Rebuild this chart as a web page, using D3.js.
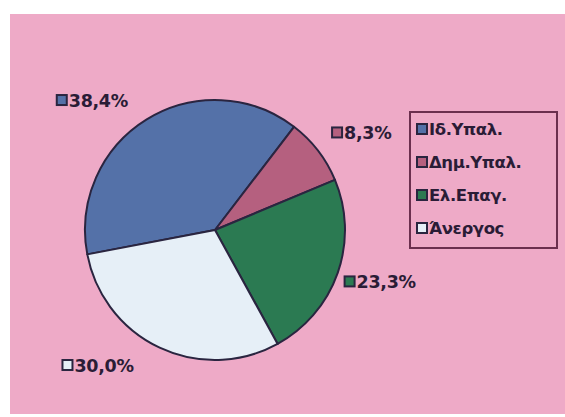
<!DOCTYPE html>
<html>
<head>
<meta charset="utf-8">
<script src="https://cdn.jsdelivr.net/npm/d3@7"></script>
<style>
  html, body { margin: 0; padding: 0; background: #fff; }
  svg { display: block; }
</style>
</head>
<body>
<svg id="chart" width="565" height="417"></svg>
<script>
// Employment status shares (%)
const categories = ["Ιδ.Υπαλ.", "Δημ.Υπαλ.", "Ελ.Επαγ.", "Άνεργος"];
const shares = [38.4, 8.3, 23.3, 30.0];
const shareLabels = ["38,4%", "8,3%", "23,3%", "30,0%"];
const sliceColors = ["#5471a8", "#b5607f", "#2b7a52", "#e6eff7"];

const W = 565, H = 417;
const svg = d3.select("#chart");

// plot area background
svg.append("rect")
  .attr("x", 10).attr("y", 14)
  .attr("width", W - 10).attr("height", 400)
  .attr("fill", "#eeaac7");

const cx = 215, cy = 230, R = 130;
const startRad = -100.8 * Math.PI / 180;

const pie = d3.pie().sort(null).value(d => d)
  .startAngle(startRad).endAngle(startRad + 2 * Math.PI);
const arcs = pie(shares);
const arc = d3.arc().innerRadius(0).outerRadius(R);

const g = svg.append("g").attr("transform", `translate(${cx},${cy})`);
g.selectAll("path.slice").data(arcs).join("path")
  .attr("class", "slice")
  .attr("d", arc)
  .attr("fill", (d, i) => sliceColors[i])
  .attr("stroke", "#2a2540")
  .attr("stroke-width", 2)
  .attr("stroke-linejoin", "round");

// data labels with legend keys, placed outside the pie
const labelArc = d3.arc().innerRadius(R + 38).outerRadius(R + 38);
const labelOffsets = [[-70, 13], [-16, 5], [-29, -4], [-81, -17]];
const font = "DejaVu Sans, Verdana, sans-serif";
const textColor = "#2a1c36";

const lab = svg.append("g").selectAll("g").data(arcs).join("g")
  .attr("transform", (d, i) => {
    const [x, y] = labelArc.centroid(d);
    return `translate(${cx + x + labelOffsets[i][0]},${cy + y + labelOffsets[i][1]})`;
  });
lab.append("rect")
  .attr("x", 0).attr("y", -5)
  .attr("width", 10).attr("height", 10)
  .attr("fill", (d, i) => sliceColors[i])
  .attr("stroke", "#2a2540").attr("stroke-width", 2);
lab.append("text")
  .attr("x", 12).attr("y", 6.5)
  .attr("font-family", font)
  .attr("font-weight", "bold")
  .attr("font-size", 17.5)
  .attr("letter-spacing", -0.3)
  .attr("fill", textColor)
  .text((d, i) => shareLabels[i]);

// legend
const lg = svg.append("g").attr("transform", "translate(410,112)");
lg.append("rect")
  .attr("width", 147).attr("height", 136)
  .attr("fill", "none")
  .attr("stroke", "#6b2f4e").attr("stroke-width", 2);
const items = lg.selectAll("g.item").data(categories).join("g")
  .attr("class", "item")
  .attr("transform", (d, i) => `translate(7,${17 + i * 33})`);
items.append("rect")
  .attr("x", 0).attr("y", -5)
  .attr("width", 10).attr("height", 10)
  .attr("fill", (d, i) => sliceColors[i])
  .attr("stroke", "#2a2540").attr("stroke-width", 2);
items.append("text")
  .attr("x", 12).attr("y", 6)
  .attr("font-family", font)
  .attr("font-weight", "bold")
  .attr("font-size", 16.5)
  .attr("letter-spacing", -0.4)
  .attr("fill", textColor)
  .text(d => d);
</script>
</body>
</html>
